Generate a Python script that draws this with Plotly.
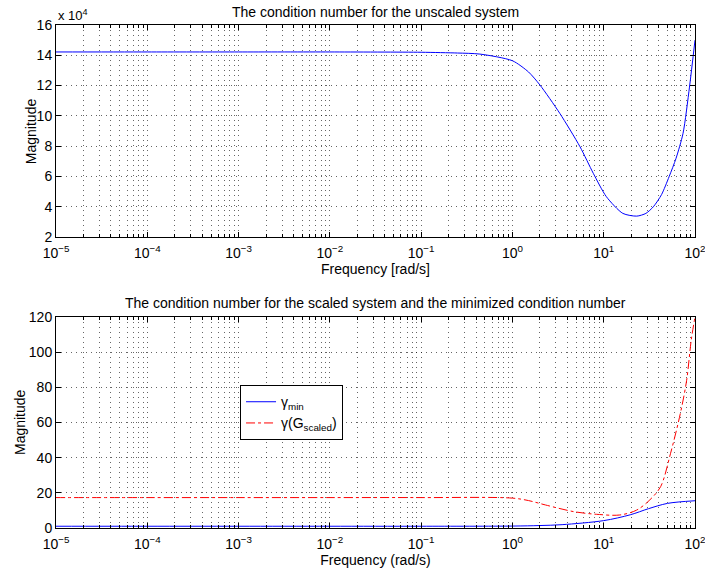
import plotly.graph_objects as go

# ---- data ----
freq_top = [1e-5, 1e-4, 1e-3, 1e-2, 0.1, 0.25, 0.44, 1.0, 1.5, 2.0, 3.3, 5.5, 7.7, 10.7, 16.2, 23.0, 29.0, 35.0,
            43.0, 52.0, 62.0, 74.0, 87.0, 100.0]
cond_unscaled = [142200, 142200, 142200, 142200, 142000, 141500, 140800, 136400, 129000, 120400, 101700, 79600,
                 62000, 46600, 35600, 33800, 35600, 40000, 48000, 59800, 72000, 88500, 119000, 150000]

freq_bot = [1e-5, 1e-4, 1e-3, 1e-2, 0.1, 1.0, 1.5, 2.3, 4.7, 8.3, 15.0, 23.0, 32.0, 42.0, 54.0, 69.0, 81.0, 91.0, 100.0]
gamma_scaled = [17.3, 17.3, 17.3, 17.3, 17.3, 17.0, 15.6, 13.1, 9.3, 7.8, 7.4, 10.2, 16.0, 23.5, 42.5, 65.0, 84.0, 107.0, 120.0]

freq_min = [1e-5, 1e-4, 1e-3, 1e-2, 0.1, 1.0, 2.0, 3.5, 10.0, 19.5, 31.0, 50.0, 100.0]
gamma_min = [1.0, 1.0, 1.0, 1.0, 1.0, 1.1, 1.4, 1.9, 4.2, 7.5, 11.0, 14.0, 15.5]

xtick_vals = [1e-5, 1e-4, 1e-3, 1e-2, 1e-1, 1e0, 1e1, 1e2]
xtick_text = ["10<sup>\u22125</sup>", "10<sup>\u22124</sup>", "10<sup>\u22123</sup>", "10<sup>\u22122</sup>",
              "10<sup>\u22121</sup>", "10<sup>0</sup>", "10<sup>1</sup>", "10<sup>2</sup>"]
ytop_vals = [20000, 40000, 60000, 80000, 100000, 120000, 140000, 160000]
ytop_text = ["2", "4", "6", "8", "10", "12", "14", "16"]
ybot_vals = [0, 20, 40, 60, 80, 100, 120]

minor_vals = [k * 10.0 ** e for e in range(-5, 2) for k in range(2, 10)]

FONT = "Liberation Sans, Arial, Helvetica, sans-serif"
GRID = "rgba(0,0,0,0.6)"
GDASH = "1px,4px"

fig = go.Figure()
fig.add_trace(go.Scatter(x=freq_top, y=cond_unscaled, mode="lines", line=dict(color="#0000ff", width=1, shape="spline", smoothing=0.7),
                         showlegend=False, xaxis="x", yaxis="y"))
fig.add_trace(go.Scatter(x=freq_min, y=gamma_min, mode="lines", name="\u03b3<sub>min</sub>",
                         line=dict(color="#0000ff", width=1, shape="spline", smoothing=0.9), xaxis="x2", yaxis="y2"))
fig.add_trace(go.Scatter(x=freq_bot, y=gamma_scaled, mode="lines", name="\u03b3(G<sub>scaled</sub>)",
                         line=dict(color="#ff0000", width=1, dash="dashdot", shape="spline", smoothing=0.9), xaxis="x2", yaxis="y2"))

def xaxis(domain_anchor, title):
    return dict(type="log", range=[-5, 2], tickmode="array", tickvals=xtick_vals, ticktext=xtick_text,
                ticks="inside", ticklen=5, tickcolor="black", showline=True, linecolor="black", linewidth=1,
                mirror="allticks", showgrid=True, gridcolor=GRID, griddash=GDASH, gridwidth=1,
                minor=dict(tickmode="array", tickvals=minor_vals, ticks="inside", ticklen=3, tickcolor="black",
                           showgrid=True, gridcolor=GRID, griddash=GDASH, gridwidth=1),
                anchor=domain_anchor, zeroline=False, ticklabelstandoff=3, ticklabeloverflow="allow",
                automargin=False,
                title=dict(text=title, standoff=2, font=dict(size=14)), tickfont=dict(size=14))

def yaxis(domain, rng, vals, text, anchor):
    d = dict(domain=domain, range=rng, tickmode="array", tickvals=vals,
             ticks="inside", ticklen=5, tickcolor="black", showline=True, linecolor="black", linewidth=1,
             mirror="allticks", showgrid=True, gridcolor=GRID, griddash=GDASH, zeroline=False, anchor=anchor,
             ticklabelstandoff=0, tickfont=dict(size=14), automargin=False, ticklabeloverflow="allow")
    if text is not None:
        d["ticktext"] = text
    return d

fig.update_layout(
    width=705, height=575, paper_bgcolor="white", plot_bgcolor="white",
    margin=dict(l=56, r=10, t=25, b=47),
    font=dict(family=FONT, size=14, color="black"),
    xaxis=xaxis("y", "Frequency [rad/s]"),
    xaxis2=xaxis("y2", "Frequency (rad/s)"),
    yaxis=yaxis([0.5785, 1.0], [20000, 160000], ytop_vals, ytop_text, "x"),
    yaxis2=yaxis([0.0, 0.4195], [0, 120], ybot_vals, None, "x2"),
    legend=dict(x=0.288, y=0.284, xanchor="left", yanchor="top", bgcolor="white", bordercolor="black", borderwidth=1,
                font=dict(size=14), tracegroupgap=0),
    annotations=[
        dict(text="The condition number for the unscaled system", xref="paper", yref="paper", x=0.5, y=1.0,
             yshift=3, xanchor="center", yanchor="bottom", showarrow=False, font=dict(size=14)),
        dict(text="The condition number for the scaled system and the minimized condition number", xref="paper",
             yref="paper", x=0.5, y=0.4195, yshift=4, xanchor="center", yanchor="bottom", showarrow=False,
             font=dict(size=14)),
        dict(text="x 10<sup>4</sup>", xref="paper", yref="paper", x=0.0, y=1.0, xanchor="left", yanchor="bottom",
             showarrow=False, font=dict(size=13)),
        dict(text="Magnitude", xref="paper", yref="paper", x=-0.0391, y=0.789, textangle=-90,
             xanchor="center", yanchor="middle", showarrow=False, font=dict(size=14)),
        dict(text="Magnitude", xref="paper", yref="paper", x=-0.0571, y=0.2097, textangle=-90,
             xanchor="center", yanchor="middle", showarrow=False, font=dict(size=14)),
    ],
)

fig.write_html("out.html")
